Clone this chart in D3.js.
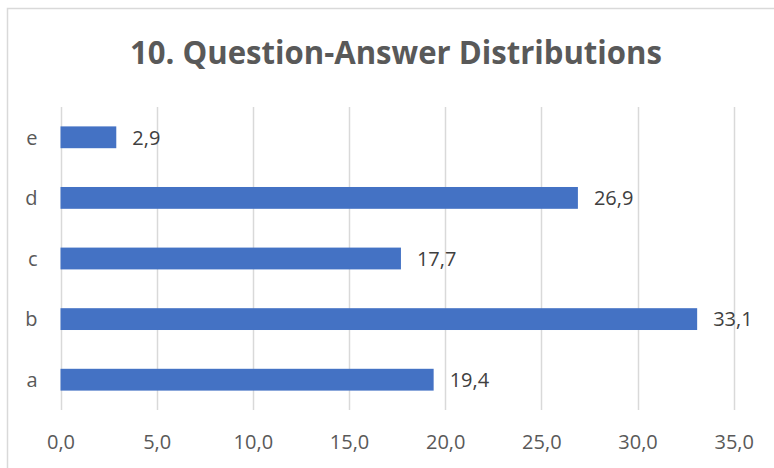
<!DOCTYPE html>
<html>
<head>
<meta charset="utf-8">
<script src="https://cdn.jsdelivr.net/npm/d3@7"></script>
<style>
  html, body { margin: 0; padding: 0; background: #fff; }
  svg { display: block; }
</style>
</head>
<body>
<svg id="chart" width="774" height="468"></svg>
<script>
// Answer categories (bottom to top) and their shares
const categories = ["a", "b", "c", "d", "e"];
const values = [19.4, 33.1, 17.7, 26.9, 2.9];
const tickValues = [0, 5, 10, 15, 20, 25, 30, 35];
const title = "10. Question-Answer Distributions";

const fmt = v => v.toFixed(1).replace(".", ",");

const W = 774, H = 468;
const svg = d3.select("#chart");
const font = "'Open Sans', 'Noto Sans', sans-serif";

// Chart frame
svg.append("rect")
  .attr("x", 7.5).attr("y", 8.5)
  .attr("width", W + 10).attr("height", H + 10)
  .attr("fill", "#fff")
  .attr("stroke", "#d9d9d9")
  .attr("stroke-width", 1.5);

const plot = { left: 60.5, right: 733.7, top: 107, bottom: 410 };

const x = d3.scaleLinear().domain([0, 35]).range([plot.left, plot.right]);
const y = d3.scaleBand()
  .domain(categories.slice().reverse())
  .range([plot.top, plot.bottom])
  .paddingInner(0.64)
  .paddingOuter(0.32);

// Vertical gridlines
svg.append("g")
  .selectAll("line")
  .data(tickValues)
  .join("line")
  .attr("x1", d => Math.round(x(d)) + 0.5)
  .attr("x2", d => Math.round(x(d)) + 0.5)
  .attr("y1", plot.top)
  .attr("y2", plot.bottom)
  .attr("stroke", "#d9d9d9")
  .attr("stroke-width", 1.5);

// Bars
svg.append("g")
  .selectAll("rect")
  .data(categories)
  .join("rect")
  .attr("x", x(0))
  .attr("y", (d) => y(d))
  .attr("width", (d, i) => x(values[i]) - x(0))
  .attr("height", y.bandwidth())
  .attr("fill", "#4472C4");

// Value labels
svg.append("g")
  .selectAll("text")
  .data(categories)
  .join("text")
  .attr("x", (d, i) => x(values[i]) + 16)
  .attr("y", d => y(d) + y.bandwidth() / 2)
  .attr("dy", "0.36em")
  .attr("font-family", font)
  .attr("font-size", 20)
  .attr("fill", "#404040")
  .text((d, i) => fmt(values[i]));

// Category axis labels
const yAxis = d3.axisLeft(y).tickSize(0).tickPadding(23);
const gy = svg.append("g")
  .attr("transform", `translate(${plot.left},0)`)
  .call(yAxis);
gy.select(".domain").remove();
gy.selectAll("text")
  .attr("font-family", font)
  .attr("font-size", 20)
  .attr("fill", "#595959")
  .attr("dy", "0.36em");

// Value axis labels
const xAxis = d3.axisBottom(x).tickValues(tickValues).tickSize(0).tickFormat(fmt).tickPadding(0);
const gx = svg.append("g")
  .attr("transform", `translate(0,${plot.bottom})`)
  .call(xAxis);
gx.select(".domain").remove();
gx.selectAll("text")
  .attr("font-family", font)
  .attr("font-size", 20)
  .attr("fill", "#595959")
  .attr("y", 32)
  .attr("dy", "0.36em");

// Title, condensed to its box width
svg.append("text")
  .attr("x", 130)
  .attr("y", 64)
  .attr("font-family", font)
  .attr("font-weight", 700)
  .attr("font-size", 33)
  .attr("textLength", 532)
  .attr("lengthAdjust", "spacingAndGlyphs")
  .attr("fill", "#595959")
  .text(title);
</script>
</body>
</html>
